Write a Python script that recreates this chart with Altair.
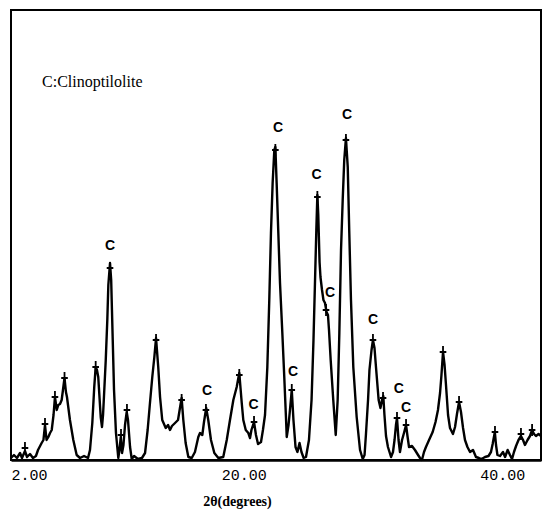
import altair as alt
import pandas as pd

# XRD pattern (2-theta in degrees, intensity in arbitrary units)
two_theta = [
    2.00, 2.23, 2.46, 2.70, 2.85, 3.08, 3.24, 3.47, 3.70, 3.93, 4.09, 4.37, 4.51, 4.63, 4.75,
    4.89, 5.02, 5.15, 5.29, 5.40, 5.54, 5.66, 5.79, 5.92, 6.02, 6.14, 6.25, 6.33, 6.56, 6.82,
    7.08, 7.34, 7.65, 7.96, 8.11, 8.29, 8.44, 8.55, 8.65, 8.75, 8.94, 9.04, 9.12, 9.19, 9.33,
    9.45, 9.53, 9.66, 9.75, 9.81, 9.87, 9.97, 10.12, 10.30, 10.39, 10.49, 10.59, 10.70, 10.82, 10.95,
    11.05, 11.21, 11.34, 11.52, 11.82, 12.13, 12.37, 12.57, 12.75, 12.93, 13.09, 13.22, 13.29, 13.39, 13.53,
    13.70, 13.97, 14.15, 14.30, 14.45, 14.69, 14.92, 15.07, 15.20, 15.33, 15.51, 15.72, 15.98, 16.23, 16.49,
    16.62, 16.80, 16.93, 17.10, 17.26, 17.47, 17.73, 18.04, 18.42, 18.69, 18.94, 19.20, 19.46, 19.66, 19.85,
    19.97, 20.16, 20.36, 20.49, 20.60, 20.80, 20.95, 21.11, 21.34, 21.49, 21.65, 21.83, 21.98, 22.11, 22.24,
    22.37, 22.45, 22.55, 22.68, 22.81, 22.99, 23.14, 23.27, 23.33, 23.47, 23.58, 23.72, 23.85, 24.01, 24.16,
    24.32, 24.47, 24.64, 24.82, 25.05, 25.25, 25.40, 25.52, 25.62, 25.70, 25.77, 25.87, 25.94, 26.06, 26.17,
    26.29, 26.41, 26.52, 26.60, 26.73, 26.93, 27.12, 27.27, 27.40, 27.53, 27.66, 27.78, 27.91, 28.05, 28.17,
    28.30, 28.48, 28.74, 29.00, 29.21, 29.35, 29.46, 29.62, 29.73, 29.89, 30.00, 30.12, 30.24, 30.44, 30.58,
    30.70, 30.80, 30.89, 31.01, 31.16, 31.40, 31.55, 31.67, 31.78, 31.86, 31.98, 32.09, 32.25, 32.40, 32.56,
    32.67, 32.79, 33.02, 33.25, 33.49, 33.64, 33.79, 33.95, 34.10, 34.34, 34.62, 34.84, 35.03, 35.19, 35.30,
    35.42, 35.54, 35.65, 35.81, 35.96, 36.19, 36.35, 36.50, 36.66, 36.81, 36.97, 37.12, 37.31, 37.51, 37.74,
    37.97, 38.20, 38.40, 38.67, 38.94, 39.13, 39.26, 39.43, 39.52, 39.63, 39.83, 40.06, 40.22, 40.42, 40.60,
    40.76, 40.91, 41.07, 41.26, 41.45, 41.61, 41.76, 41.96, 42.15, 42.31, 42.46, 42.61, 42.81, 43.00,
]
intensity = [
    2, 5, 2, 7, 2, 9, 3, 6, 2, 4, 10, 17, 20, 35, 20,
    23, 27, 30, 45, 63, 50, 55, 56, 60, 70, 82, 68, 63, 40, 20,
    5, 2, 4, 2, 10, 37, 73, 93, 90, 83, 43, 33, 45, 63, 100,
    140, 175, 197, 180, 150, 120, 70, 27, 2, 10, 23, 7, 15, 35, 48,
    40, 13, 1, 4, 1, 2, 7, 30, 57, 83, 103, 122, 110, 93, 63,
    40, 32, 35, 30, 34, 37, 40, 52, 62, 40, 17, 3, 2, 8, 23,
    27, 25, 38, 52, 40, 20, 7, 2, 3, 20, 40, 60, 73, 87, 57,
    40, 30, 27, 22, 30, 38, 25, 16, 18, 30, 45, 93, 160, 227, 277,
    310, 313, 277, 227, 177, 127, 83, 43, 23, 35, 50, 70, 40, 13, 8,
    17, 8, 2, 3, 20, 60, 120, 180, 230, 265, 245, 198, 183, 170, 160,
    157, 148, 145, 130, 100, 60, 25, 60, 127, 210, 260, 300, 322, 293, 227,
    160, 93, 43, 10, 1, 5, 26, 60, 90, 110, 120, 112, 92, 60, 52,
    60, 64, 45, 24, 13, 3, 8, 20, 35, 42, 20, 8, 20, 27, 35,
    24, 13, 14, 10, 5, 2, 0, 8, 13, 20, 28, 38, 50, 67, 85,
    108, 95, 75, 45, 32, 26, 33, 46, 58, 48, 32, 20, 13, 8, 10,
    3, 2, 1, 3, 4, 8, 16, 28, 15, 5, 4, 8, 3, 10, 5,
    1, 8, 14, 20, 24, 20, 15, 20, 24, 30, 26, 24, 26, 24,
]

# Peak markers (+)
peak_theta = [3.08, 4.63, 5.40, 6.14, 8.55, 9.66, 10.51, 10.97, 13.22, 15.20, 17.08, 19.66, 20.80,
              22.45, 23.72, 25.70, 26.37, 27.91, 30.00, 30.78, 31.86, 32.56, 35.42, 36.66, 39.44,
              41.45, 42.31]
peak_int = [12, 36, 63, 82, 93, 192, 25, 50, 120, 60, 50, 85, 38,
            310, 70, 263, 150, 320, 120, 62, 42, 35, 108, 58, 28,
            26, 30]

# Clinoptilolite labels
c_theta = [9.66, 17.16, 20.76, 22.65, 23.82, 25.63, 26.68, 27.99, 30.00, 32.01, 32.56]
c_int = [214, 69, 55, 332, 88, 285, 167, 345, 140, 71, 52]

legend_text = ["C:Clinoptilolite"]
legend_theta = [4.40]
legend_int = [378]

x_ticks = [2, 20, 40]

curve = pd.DataFrame({"theta": two_theta, "I": intensity})
peaks = pd.DataFrame({"theta": peak_theta, "I": peak_int})
clabels = pd.DataFrame({"theta": c_theta, "I": c_int, "t": ["C"] * len(c_theta)})
legend = pd.DataFrame({"theta": legend_theta, "I": legend_int, "t": legend_text})

xscale = alt.Scale(domain=[2, 43], nice=False, zero=False)
yscale = alt.Scale(domain=[0, 450], nice=False, zero=True)

xaxis = alt.Axis(
    values=x_ticks, format=".2f", ticks=False, grid=False,
    domainColor="black", domainWidth=2.5,
    labelFont="Liberation Mono", labelFontSize=15, labelColor="black",
    labelPadding=7, labelFlush=20,
    title="2θ(degrees)", titleFont="Liberation Serif", titleFontSize=14,
    titleFontWeight="bold", titleColor="black",
    titleX=226, titleY=41, titleBaseline="middle", titleAlign="center",
)

line = alt.Chart(curve).mark_line(color="black", strokeWidth=2.4, strokeJoin="round").encode(
    x=alt.X("theta:Q", scale=xscale, axis=xaxis),
    y=alt.Y("I:Q", scale=yscale, axis=None),
)

plus = alt.Chart(peaks).mark_point(
    shape="M0,-1L0,1M-0.55,0L0.55,0", size=144, filled=False,
    stroke="black", strokeWidth=1.8, opacity=1,
).encode(
    x=alt.X("theta:Q", scale=xscale),
    y=alt.Y("I:Q", scale=yscale),
)

ctext = alt.Chart(clabels).mark_text(
    font="Liberation Sans", fontSize=14, fontWeight="bold", color="black", baseline="middle",
).encode(
    x=alt.X("theta:Q", scale=xscale),
    y=alt.Y("I:Q", scale=yscale),
    text="t:N",
)

leg = alt.Chart(legend).mark_text(
    font="Liberation Serif", fontSize=16, color="black", align="left", baseline="middle",
).encode(
    x=alt.X("theta:Q", scale=xscale),
    y=alt.Y("I:Q", scale=yscale),
    text="t:N",
)

chart = alt.layer(line, plus, ctext, leg).properties(
    width=530, height=450,
    padding={"left": 11, "top": 10, "right": 6, "bottom": 51},
    autosize=alt.AutoSizeParams(type="none"),
    background="white",
).configure_view(stroke="black", strokeWidth=2)

chart.save("out.html", embed_options={"renderer": "svg", "actions": False})
